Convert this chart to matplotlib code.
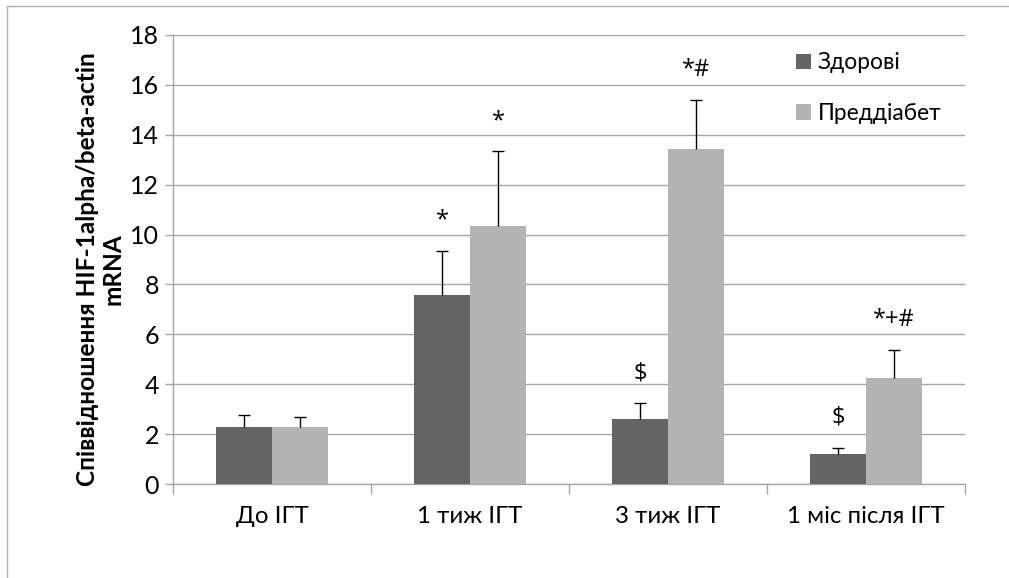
import numpy as np
import matplotlib.pyplot as plt
from matplotlib.patches import Rectangle

plt.rcParams["font.family"] = ["Lato", "DejaVu Sans"]

# дані
categories = ["До ІГТ", "1 тиж ІГТ", "3 тиж ІГТ", "1 міс після ІГТ"]
healthy = [2.30, 7.56, 2.60, 1.21]
healthy_err = [0.45, 1.80, 0.63, 0.25]
prediab = [2.30, 10.35, 13.44, 4.24]
prediab_err = [0.37, 2.98, 1.96, 1.12]
healthy_marks = ["", "*", "$", "$"]
prediab_marks = ["", "*", "*#", "*+#"]
series_names = ["Здорові", "Преддіабет"]

W, H = 1009, 578
fig = plt.figure(figsize=(W / 100, H / 100), dpi=100)
ax = fig.add_axes([173 / W, (H - 484) / H, 792 / W, 449 / H])

x = np.arange(len(categories))
w = 0.283
grid_c = "#a6a6a6"

ax.bar(x - w / 2, healthy, w, color="#646464", label=series_names[0], zorder=3)
ax.bar(x + w / 2, prediab, w, color="#b3b3b3", label=series_names[1], zorder=3)


def up_errors(xs, vals, errs, marks):
    # похибка тільки вгору, без нижньої риски
    tops = np.array(vals) + np.array(errs)
    ax.vlines(xs, vals, tops, color="black", linewidth=1, zorder=4)
    ax.plot(xs, tops, ls="none", marker="_", markersize=8, mew=1, color="black", zorder=4)
    for xi, t, m in zip(xs, tops, marks):
        if m:
            ax.text(xi, t + 1.2, m, ha="center", va="center", fontsize=17,
                    family=["Open Sans", "DejaVu Sans"], zorder=5)


up_errors(x - w / 2, healthy, healthy_err, healthy_marks)
up_errors(x + w / 2, prediab, prediab_err, prediab_marks)

ax.set_xlim(-0.5, len(categories) - 0.5)
ax.set_ylim(0, 18)
ax.set_yticks(np.arange(0, 19, 2))
ax.yaxis.grid(True, color=grid_c, linewidth=1, zorder=0)
ax.set_axisbelow(True)

ax.set_xticks(x)
ax.set_xticklabels(categories, fontsize=17.3)
ax.tick_params(axis="x", length=0, pad=16)
ax.set_xticks(np.arange(-0.5, len(categories)), minor=True)
ax.tick_params(axis="x", which="minor", length=7, color=grid_c, width=1)
ax.tick_params(axis="y", labelsize=18, length=6, color=grid_c, width=1, pad=4)

for s in ["top", "right"]:
    ax.spines[s].set_visible(False)
for s in ["left", "bottom"]:
    ax.spines[s].set_color(grid_c)
    ax.spines[s].set_linewidth(1)

fig.text(100 / W, 1 - 269 / H, "Співвідношення HIF-1alpha/beta-actin\nmRNA",
         rotation=90, ha="center", va="center", fontsize=17.6, fontweight="bold",
         multialignment="center", linespacing=1.15)

ax.legend(loc="upper left", bbox_to_anchor=(785 / W, 1 - 41 / H),
          bbox_transform=fig.transFigure, frameon=False, fontsize=16.4, borderpad=0,
          handlelength=0.64, handleheight=0.64, handletextpad=0.3, labelspacing=1.3)

# рамка області діаграми
fig.patches.append(Rectangle((7 / W, -0.1), 1.2, 1.1 - 6 / H, transform=fig.transFigure,
                             fill=False, edgecolor="#b0b0b0", linewidth=1))

fig.savefig("out.png", dpi=100)
